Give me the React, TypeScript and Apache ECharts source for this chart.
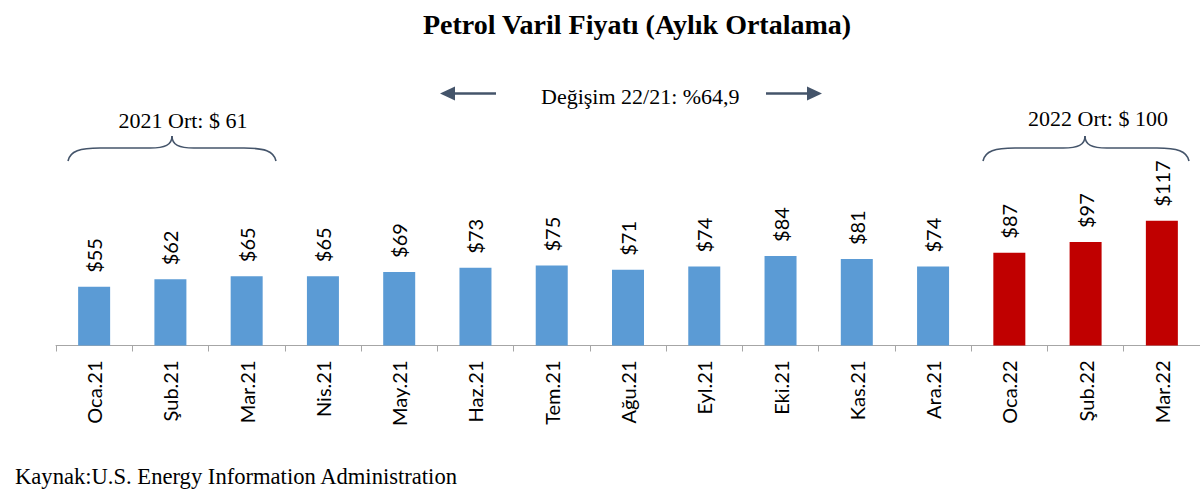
import React, { useEffect, useRef } from "react";
import * as echarts from "echarts";

const categories = [
  "Oca.21", "Şub.21", "Mar.21", "Nis.21", "May.21", "Haz.21", "Tem.21", "Ağu.21",
  "Eyl.21", "Eki.21", "Kas.21", "Ara.21", "Oca.22", "Şub.22", "Mar.22",
];
const prices = [55, 62, 65, 65, 69, 73, 75, 71, 74, 84, 81, 74, 87, 97, 117];
const years = [2021, 2021, 2021, 2021, 2021, 2021, 2021, 2021, 2021, 2021, 2021, 2021, 2022, 2022, 2022];

const titleText = "Petrol Varil Fiyatı (Aylık Ortalama)";
const changeText = "Değişim 22/21: %64,9";
const avg2021Text = "2021 Ort: $ 61";
const avg2022Text = "2022 Ort: $ 100";
const sourceText = "Kaynak:U.S. Energy Information Administration";

const BLUE = "#5B9BD5";
const RED = "#C00000";
const SLATE = "#44546A";
const SERIF = "'Liberation Serif', 'Times New Roman', serif";
const SANS = "Lato, 'Open Sans', sans-serif";

function brace(x1: number, xm: number, x2: number) {
  const yEnd = 161, yFlat = 148, yTip = 136;
  const st = { stroke: SLATE, lineWidth: 1.6, fill: "none" };
  const els: any[] = [];
  els.push({ type: "bezierCurve", shape: { x1, y1: yEnd, cpx1: x1 + 2, cpy1: yEnd - 10, cpx2: x1 + 12, cpy2: yFlat, x2: x1 + 32, y2: yFlat }, style: st, silent: true });
  els.push({ type: "line", shape: { x1: x1 + 32, y1: yFlat, x2: xm - 22, y2: yFlat }, style: st, silent: true });
  els.push({ type: "bezierCurve", shape: { x1: xm - 22, y1: yFlat, cpx1: xm - 7, cpy1: yFlat, cpx2: xm, cpy2: yFlat - 3, x2: xm, y2: yTip }, style: st, silent: true });
  els.push({ type: "bezierCurve", shape: { x1: xm, y1: yTip, cpx1: xm, cpy1: yFlat - 3, cpx2: xm + 7, cpy2: yFlat, x2: xm + 22, y2: yFlat }, style: st, silent: true });
  els.push({ type: "line", shape: { x1: xm + 22, y1: yFlat, x2: x2 - 32, y2: yFlat }, style: st, silent: true });
  els.push({ type: "bezierCurve", shape: { x1: x2 - 32, y1: yFlat, cpx1: x2 - 12, cpy1: yFlat, cpx2: x2 - 2, cpy2: yEnd - 10, x2, y2: yEnd }, style: st, silent: true });
  return els;
}

export default function App() {
  const ref = useRef<HTMLDivElement>(null);
  useEffect(() => {
    document.body.style.margin = "0";
    const chart = echarts.init(ref.current!, undefined, { renderer: "svg" });
    const option: any = {
      animation: false,
      backgroundColor: "#ffffff",
      grid: { left: 56, right: -4, top: 185.5, bottom: 154.5, containLabel: false },
      xAxis: {
        type: "category",
        data: categories,
        boundaryGap: true,
        axisLine: { show: true, lineStyle: { color: "#A6A6A6", width: 1 } },
        axisTick: { show: true, length: 6, lineStyle: { color: "#A6A6A6" } },
        axisLabel: {
          rotate: 90,
          margin: 15,
          interval: 0,
          color: "#000",
          fontSize: 20,
          fontFamily: SANS,
        },
      },
      yAxis: {
        type: "value",
        min: 0,
        max: 150,
        show: false,
        splitLine: { show: false },
      },
      series: [
        {
          type: "bar",
          barWidth: 32,
          data: prices.map((v, i) => ({
            value: v,
            itemStyle: { color: years[i] === 2022 ? RED : BLUE },
          })),
          label: {
            show: true,
            position: "top",
            rotate: 90,
            align: "left",
            verticalAlign: "middle",
            distance: 14,
            color: "#000",
            fontSize: 20,
            fontFamily: SANS,
            formatter: (p: any) => "$" + p.value,
          },
        },
      ],
      graphic: [
        { type: "text", x: 637, y: 24, silent: true, style: { text: titleText, fill: "#000", font: `bold 28px ${SERIF}`, textAlign: "center", textVerticalAlign: "middle" } },
        { type: "text", x: 541, y: 96, silent: true, style: { text: changeText, fill: "#000", font: `22px ${SERIF}`, textAlign: "left", textVerticalAlign: "middle" } },
        { type: "line", silent: true, shape: { x1: 453, y1: 93.5, x2: 496, y2: 93.5 }, style: { stroke: SLATE, lineWidth: 2.7 } },
        { type: "polygon", silent: true, shape: { points: [[440, 93.5], [455, 86.5], [455, 100.5]] }, style: { fill: SLATE } },
        { type: "line", silent: true, shape: { x1: 766, y1: 93.5, x2: 809, y2: 93.5 }, style: { stroke: SLATE, lineWidth: 2.7 } },
        { type: "polygon", silent: true, shape: { points: [[822, 93.5], [807, 86.5], [807, 100.5]] }, style: { fill: SLATE } },
        { type: "text", x: 183, y: 120, silent: true, style: { text: avg2021Text, fill: "#000", font: `22px ${SERIF}`, textAlign: "center", textVerticalAlign: "middle" } },
        { type: "text", x: 1098, y: 118, silent: true, style: { text: avg2022Text, fill: "#000", font: `22px ${SERIF}`, textAlign: "center", textVerticalAlign: "middle" } },
        ...brace(68, 172, 276),
        ...brace(983, 1085, 1189),
        { type: "text", x: 15, y: 476, silent: true, style: { text: sourceText, fill: "#000", font: `22.6px ${SERIF}`, textAlign: "left", textVerticalAlign: "middle" } },
      ],
    };
    chart.setOption(option);
    return () => chart.dispose();
  }, []);
  return <div ref={ref} style={{ width: 1200, height: 500 }} />;
}
